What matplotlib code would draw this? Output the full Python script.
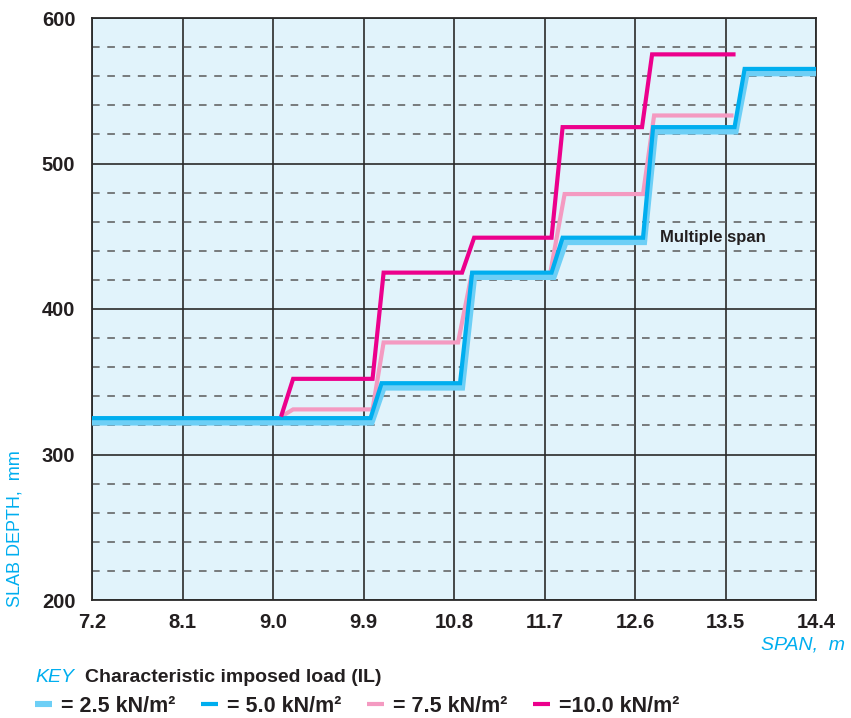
import matplotlib.pyplot as plt
import numpy as np
from matplotlib.ticker import MultipleLocator

plt.rcParams['font.family'] = ['Liberation Sans', 'DejaVu Sans']

DARK = '#231f20'
CYAN = '#00aeef'

span_ticks = [7.2, 8.1, 9.0, 9.9, 10.8, 11.7, 12.6, 13.5, 14.4]
depth_ticks = [200, 300, 400, 500, 600]

# depth steps for each characteristic imposed load (span m -> depth mm)
span_il25 = [7.2, 9.98, 10.10, 10.88, 11.00, 11.79, 11.91, 12.69, 12.80, 13.60, 13.71, 14.4]
depth_il25 = [322, 322, 346, 346, 422, 422, 446, 446, 522, 522, 562, 562]
span_il50 = [7.2, 9.97, 10.08, 10.86, 10.98, 11.77, 11.88, 12.68, 12.78, 13.59, 13.69, 14.4]
depth_il50 = [325, 325, 349, 349, 425, 425, 449, 449, 525, 525, 565, 565]
span_il75 = [9.08, 9.20, 9.99, 10.10, 10.84, 10.97, 11.75, 11.90, 12.68, 12.79, 13.58]
depth_il75 = [326, 331, 331, 377, 377, 422, 422, 479, 479, 533, 533]
span_il100 = [9.08, 9.20, 9.99, 10.10, 10.88, 11.00, 11.77, 11.88, 12.67, 12.77, 13.60]
depth_il100 = [326, 352, 352, 425, 425, 449, 449, 525, 525, 575, 575]

load_labels = ['= 2.5 kN/m²', '= 5.0 kN/m²', '= 7.5 kN/m²', '=10.0 kN/m²']

fig = plt.figure(figsize=(8.51, 7.18), dpi=100)
ax = fig.add_axes([92/851, 1 - 600/718, 724/851, 582/718])
ax.set_facecolor('#e1f3fb')

line_kw = dict(solid_joinstyle='miter', solid_capstyle='butt')
l25, = ax.plot(span_il25, depth_il25, color='#6dcff6', lw=4.4, zorder=4, **line_kw)
l50, = ax.plot(span_il50, depth_il50, color='#00aeef', lw=3.0, zorder=5, **line_kw)
l75, = ax.plot(span_il75, depth_il75, color='#f49ac1', lw=3.0, zorder=3, **line_kw)
l100, = ax.plot(span_il100, depth_il100, color='#ec008c', lw=3.0, zorder=6, **line_kw)

ax.set_xlim(7.2, 14.4)
ax.set_ylim(200, 600)
ax.set_xticks(span_ticks)
ax.set_xticklabels([f'{s:.1f}' for s in span_ticks])
ax.set_yticks(depth_ticks)
ax.yaxis.set_minor_locator(MultipleLocator(20))
ax.tick_params(which='both', length=0, colors=DARK, labelsize=14.5)
ax.tick_params(axis='x', pad=9)
ax.tick_params(axis='y', pad=12)
for lab in ax.get_xticklabels() + ax.get_yticklabels():
    lab.set_fontweight('bold')

ax.grid(True, which='major', color='#2a2a2a', lw=1.2, zorder=1)
ax.grid(True, which='minor', axis='y', color='#5a5a5a', lw=1.1,
        linestyle=(0, (5, 5)), zorder=1)
ax.set_axisbelow(True)
for sp in ax.spines.values():
    sp.set_color('#2a2a2a')
    sp.set_linewidth(1.3)

ax.text(12.85, 449, 'Multiple span', fontsize=12, fontweight='bold',
        color=DARK, ha='left', va='center', zorder=7)

fig.text(15/851, 1 - 607/718, 'SLAB DEPTH,  mm', rotation=90, color=CYAN,
         fontsize=13, ha='center', va='bottom')
fig.text(845/851, 1 - 645/718, 'SPAN,  m', style='italic', color=CYAN,
         fontsize=14, ha='right', va='center')

fig.text(35/851, 1 - 677/718, 'KEY', style='italic', color=CYAN,
         fontsize=14, ha='left', va='center')
fig.text(85/851, 1 - 677/718, 'Characteristic imposed load (IL)',
         fontweight='bold', color=DARK, fontsize=14, ha='left', va='center')

leg = fig.legend([l25, l50, l75, l100], load_labels, loc='center left',
                 bbox_to_anchor=(35/851, 1 - 706/718), ncol=4, frameon=False,
                 fontsize=15.5, handlelength=0.8, handletextpad=0.4,
                 columnspacing=1.2, borderaxespad=0, borderpad=0)
for t in leg.get_texts():
    t.set_fontweight('bold')
    t.set_color(DARK)

fig.savefig('out.png', dpi=100)
